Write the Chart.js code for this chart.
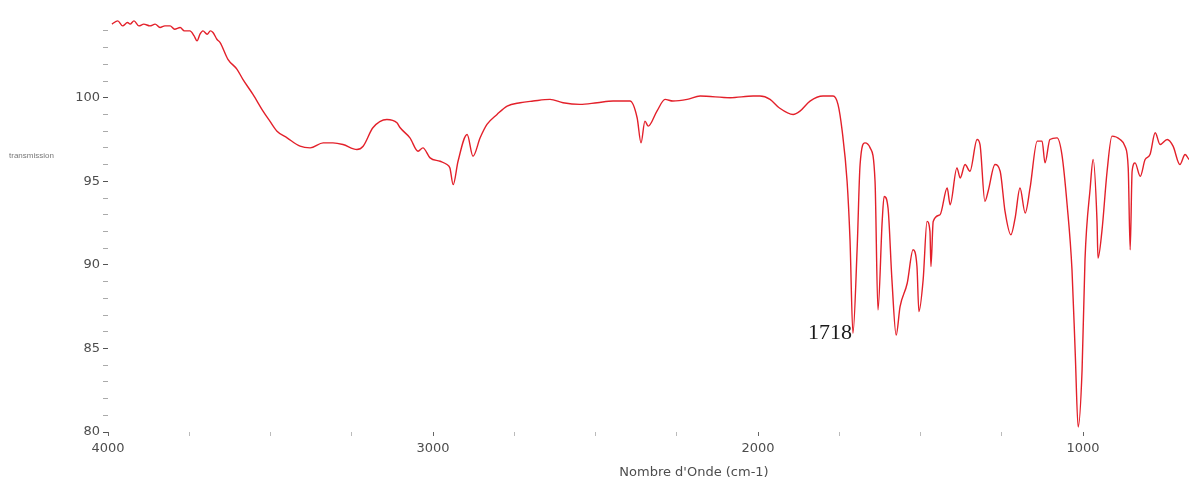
<!DOCTYPE html>
<html>
<head>
<meta charset="utf-8">
<script src="https://cdn.jsdelivr.net/npm/chart.js@4"></script>
<style>
  body { margin: 0; background: #fff; }
  #wrap { width: 1189px; height: 490px; position: relative; }
</style>
</head>
<body>
<div id="wrap"><canvas id="myChart"></canvas></div>
<script>
// wavenumbers (cm-1) and transmission values
var waveNumbers = [3988, 3970, 3955, 3940, 3932, 3920, 3905, 3890, 3871, 3855, 3840, 3825, 3809, 3795, 3778, 3765, 3748, 3735, 3726, 3717, 3708, 3695, 3685, 3677, 3665, 3655, 3631, 3603, 3585, 3554, 3523, 3502, 3480, 3449, 3409, 3378, 3338, 3308, 3277, 3234, 3215, 3185, 3142, 3111,
  3101, 3071, 3046, 3031, 3009, 2978, 2957, 2948, 2938, 2923, 2895, 2877, 2855, 2834, 2803, 2772, 2732, 2692, 2640, 2600, 2548, 2495, 2446, 2394, 2372, 2360, 2348, 2338, 2311, 2286, 2262, 2218, 2178, 2086, 2015, 1994, 1963,
  1935, 1892, 1871, 1840, 1800, 1769, 1754, 1741, 1726, 1717, 1708, 1695, 1686, 1671, 1655, 1640, 1631, 1618, 1612, 1600, 1588, 1575, 1563, 1541, 1523, 1511, 1505, 1492, 1480, 1471, 1468, 1461,
  1440, 1418, 1409, 1388, 1378, 1363, 1348, 1326, 1317, 1302, 1292, 1271, 1255, 1240, 1222, 1209, 1194, 1178, 1163, 1141, 1126, 1117, 1102, 1080, 1065, 1049, 1034, 1024, 1015, 1003, 994, 978, 969, 957, 954, 942, 926, 911, 886, 871, 861, 855, 849, 840, 824, 809, 794, 778, 763, 741, 723, 702, 686, 674];
var transmission = [104.4, 104.6, 104.3, 104.5, 104.4, 104.6, 104.3, 104.4, 104.3, 104.4, 104.2, 104.3, 104.3, 104.1, 104.2, 104.0, 104.0, 103.7, 103.4, 103.8, 104.0, 103.8, 104.0, 103.9, 103.5, 103.3, 102.3, 101.7, 101.1, 100.2, 99.2, 98.6, 98.0, 97.6, 97.1, 97.0, 97.3, 97.3, 97.2, 96.9, 97.1, 98.2, 98.7, 98.5,
  98.2, 97.6, 96.8, 97.0, 96.4, 96.2, 96.0, 95.8, 94.8, 96.2, 97.8, 96.5, 97.6, 98.4, 99.0, 99.5, 99.7, 99.8, 99.9, 99.7, 99.6, 99.7, 99.8, 99.8, 98.8, 97.3, 98.6, 98.3, 99.2, 99.9, 99.8, 99.9, 100.1, 100.0, 100.1, 100.1, 99.9,
  99.4, 99.0, 99.2, 99.8, 100.1, 100.1, 99.6, 98.0, 95.0, 91.5, 85.9, 91.0, 96.0, 97.3, 97.0, 95.0, 87.3, 92.6, 94.1, 93.4, 89.1, 85.8, 87.5, 88.9, 90.9, 89.9, 87.2, 89.1, 92.6, 92.0, 89.9, 92.6,
  93.0, 94.6, 93.6, 95.8, 95.2, 96.0, 95.6, 97.5, 97.2, 93.8, 94.4, 96.0, 95.6, 93.2, 91.8, 92.8, 94.6, 93.1, 94.6, 97.4, 97.4, 96.1, 97.5, 97.6, 96.6, 93.6, 89.7, 84.7, 80.3, 83.7, 90.3, 94.6, 96.3, 92.6, 90.4, 92.0, 95.6, 97.7, 97.5, 97.1, 95.8, 90.9, 95.6, 96.1, 95.3, 96.3, 96.6, 97.9, 97.2, 97.5, 97.1, 96.0, 96.6, 96.3];

var xTickLabels = [4000, 3000, 2000, 1000];
var yTickLabels = [80, 85, 90, 95, 100];
var peakLabel = '1718';
var peakPoint = [1708, 85.9];

var textColor = '#4d4d4d';
var lineColor = '#e3202a';
var labelFont = '"DejaVu Sans", Verdana, sans-serif';

var points = waveNumbers.map(function (w, i) { return { x: w, y: transmission[i] }; });

var textPlugin = {
    id: 'extraText',
    afterDraw: function (chart) {
        var c = chart.ctx;
        var xs = chart.scales.x, ys = chart.scales.y;
        c.save();
        c.fillStyle = '#1a1a1a';
        c.font = '22px "Liberation Serif", serif';
        c.textAlign = 'right';
        c.textBaseline = 'middle';
        c.fillText(peakLabel, xs.getPixelForValue(peakPoint[0]) - 1, ys.getPixelForValue(peakPoint[1]));
        c.fillStyle = textColor;
        c.font = '13px ' + labelFont;
        c.textAlign = 'center';
        c.fillText("Nombre d'Onde (cm-1)", 694, 473);
        c.font = '8px "Liberation Sans", Arial, sans-serif';
        c.textAlign = 'left';
        c.fillStyle = '#777';
        c.fillText('transmission', 9, 156);
        c.restore();
    }
};

new Chart(document.getElementById('myChart'), {
    type: 'line',
    data: {
        datasets: [{
            data: points,
            borderColor: lineColor,
            borderWidth: 1.4,
            pointRadius: 0,
            cubicInterpolationMode: 'monotone',
            fill: false
        }]
    },
    options: {
        responsive: true,
        maintainAspectRatio: false,
        animation: false,
        layout: { padding: { left: 0, right: 0, top: 8, bottom: 0 } },
        plugins: { legend: { display: false }, tooltip: { enabled: false } },
        scales: {
            x: {
                type: 'linear',
                reverse: true,
                min: 674,
                max: 4000,
                afterBuildTicks: function (axis) {
                    axis.ticks = axis.ticks.filter(function (t) { return t.value % 250 === 0; });
                },
                afterFit: function (axis) { axis.height = 58; },
                border: { display: false },
                grid: {
                    drawOnChartArea: false,
                    tickLength: 4,
                    tickColor: function (ctx) { return ctx.tick && xTickLabels.indexOf(ctx.tick.value) >= 0 ? '#666' : '#bbb'; }
                },
                ticks: {
                    stepSize: 250,
                    autoSkip: false,
                    maxRotation: 0,
                    padding: 5,
                    color: textColor,
                    font: { size: 13, family: labelFont },
                    callback: function (v) { return xTickLabels.indexOf(v) >= 0 ? String(v) : ''; }
                }
            },
            y: {
                min: 80,
                max: 105.2,
                afterBuildTicks: function (axis) {
                    axis.ticks = axis.ticks.filter(function (t) { return Number.isInteger(t.value); });
                },
                afterFit: function (axis) { axis.width = 108; },
                border: { display: false },
                grid: {
                    drawOnChartArea: false,
                    tickLength: 5,
                    tickColor: function (ctx) { return ctx.tick && yTickLabels.indexOf(ctx.tick.value) >= 0 ? '#555' : '#aaa'; }
                },
                ticks: {
                    stepSize: 1,
                    autoSkip: false,
                    padding: 3,
                    color: textColor,
                    font: { size: 13, family: labelFont },
                    callback: function (v) { return yTickLabels.indexOf(v) >= 0 ? String(v) : ''; }
                }
            }
        }
    },
    plugins: [textPlugin]
});
</script>
</body>
</html>
